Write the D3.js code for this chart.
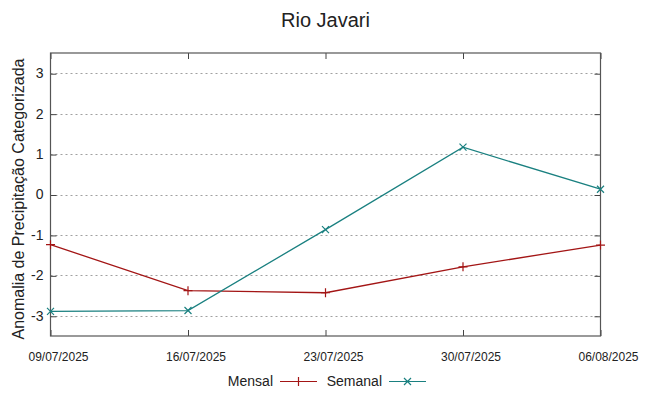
<!DOCTYPE html>
<html>
<head>
<meta charset="utf-8">
<script src="https://cdn.jsdelivr.net/npm/d3@7"></script>
<style>
  body { margin: 0; background: #fff; }
  text { font-family: "Liberation Sans", Arial, sans-serif; fill: #222; }
</style>
</head>
<body>
<svg id="chart" width="649" height="396"></svg>
<script>
var dates = ["09/07/2025", "16/07/2025", "23/07/2025", "30/07/2025", "06/08/2025"];
var mensal = [-1.24, -2.38, -2.43, -1.79, -1.25];
var semanal = [-2.89, -2.87, -0.87, 1.17, 0.13];
var yTicks = [-3, -2, -1, 0, 1, 2, 3];
var seriesNames = ["Mensal", "Semanal"];
var seriesColors = ["#a31515", "#1a8080"];

var svg = d3.select("#chart");
var margin = {left: 50.5, right: 48.5, top: 53, bottom: 60};
var width = 649 - margin.left - margin.right;
var height = 396 - margin.top - margin.bottom;

var x = d3.scalePoint().domain(dates).range([0, width]);
var y = d3.scaleLinear().domain([-3.5, 3.5]).range([height, 0]);

var g = svg.append("g")
    .attr("transform", "translate(" + margin.left + "," + margin.top + ")");

// grid lines, dotted
g.append("g").selectAll("line")
  .data(yTicks)
  .join("line")
    .attr("x1", 0).attr("x2", width)
    .attr("y1", d => Math.round(y(d)) + 0.5).attr("y2", d => Math.round(y(d)) + 0.5)
    .attr("stroke", "#a0a0a0")
    .attr("stroke-dasharray", "2,3");

// left axis with inward ticks (plain hyphen for negatives)
var axisL = g.append("g")
    .call(d3.axisLeft(y).tickValues(yTicks).tickSize(-6).tickPadding(7).tickFormat(d => String(d)));
axisL.select(".domain").remove();
axisL.selectAll("line").attr("stroke", "#444").attr("transform", "translate(0,0.5)");
axisL.selectAll("text").style("font-size", "14px").attr("fill", "#222");

// mirrored right ticks
var axisR = g.append("g")
    .attr("transform", "translate(" + width + ",0)")
    .call(d3.axisRight(y).tickValues(yTicks).tickSize(-6).tickFormat(""));
axisR.select(".domain").remove();
axisR.selectAll("line").attr("stroke", "#444").attr("transform", "translate(0,0.5)");

// bottom axis, labels sit a little right of the tick
var axisB = g.append("g")
    .attr("transform", "translate(0," + height + ")")
    .call(d3.axisBottom(x).tickSize(-6).tickPadding(16));
axisB.select(".domain").remove();
axisB.selectAll("line").attr("stroke", "#444");
axisB.selectAll("text").style("font-size", "12px").attr("fill", "#222").attr("dx", 7.5);

// mirrored top ticks
var axisT = g.append("g")
    .call(d3.axisTop(x).tickSize(-6).tickFormat(""));
axisT.select(".domain").remove();
axisT.selectAll("line").attr("stroke", "#444");

// frame
g.append("rect")
    .attr("x", 0).attr("y", 0)
    .attr("width", width).attr("height", height)
    .attr("fill", "none")
    .attr("stroke", "#555")
    .attr("stroke-width", 1.2);

var line = d3.line()
    .x((d, i) => x(dates[i]))
    .y(d => y(d));

function plusPath(s) {
  return "M" + (-s) + ",0H" + s + "M0," + (-s) + "V" + s;
}
function crossPath(s) {
  return "M" + (-s) + "," + (-s) + "L" + s + "," + s + "M" + (-s) + "," + s + "L" + s + "," + (-s);
}
var markers = [plusPath(4.5), crossPath(3.5)];

[mensal, semanal].forEach(function(values, k) {
  g.append("path")
      .datum(values)
      .attr("fill", "none")
      .attr("stroke", seriesColors[k])
      .attr("stroke-width", 1.3)
      .attr("d", line);
  g.append("g").selectAll("path")
    .data(values)
    .join("path")
      .attr("transform", (d, i) => "translate(" + x(dates[i]) + "," + y(d) + ")")
      .attr("d", markers[k])
      .attr("stroke", seriesColors[k])
      .attr("stroke-width", 1.2)
      .attr("fill", "none");
});

// title
svg.append("text")
    .attr("x", margin.left + width / 2)
    .attr("y", 27)
    .attr("text-anchor", "middle")
    .style("font-size", "20px")
    .text("Rio Javari");

// y label
svg.append("text")
    .attr("transform", "translate(24,199) rotate(-90)")
    .attr("text-anchor", "middle")
    .style("font-size", "16px")
    .text("Anomalia de Precipitação Categorizada");

// legend
var legendX = [273, 382];
var legend = svg.append("g");
seriesNames.forEach(function(name, k) {
  var lx = legendX[k];
  legend.append("text")
      .attr("x", lx).attr("y", 386)
      .attr("text-anchor", "end")
      .style("font-size", "14px")
      .text(name);
  legend.append("line")
      .attr("x1", lx + 7).attr("x2", lx + 44)
      .attr("y1", 381.5).attr("y2", 381.5)
      .attr("stroke", seriesColors[k])
      .attr("stroke-width", 1.2);
  legend.append("path")
      .attr("transform", "translate(" + (lx + 25.5) + ",381.5)")
      .attr("d", markers[k])
      .attr("stroke", seriesColors[k])
      .attr("stroke-width", 1.2)
      .attr("fill", "none");
});
</script>
</body>
</html>
